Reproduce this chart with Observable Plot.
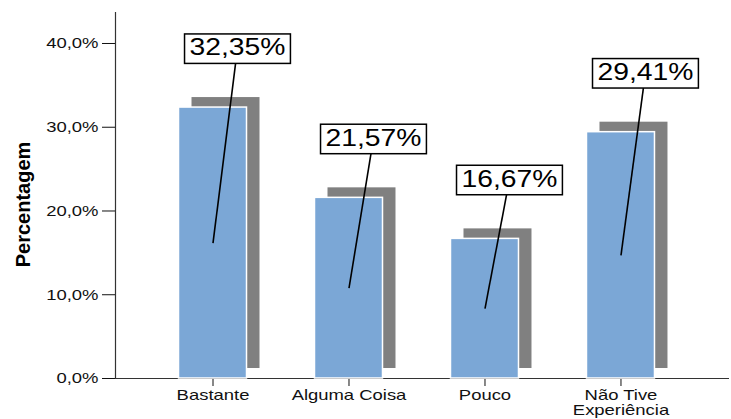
<!DOCTYPE html>
<html>
<head>
<meta charset="utf-8">
<script src="https://cdn.jsdelivr.net/npm/d3@7"></script>
<script src="https://cdn.jsdelivr.net/npm/@observablehq/plot@0.6"></script>
<style>
  html, body { margin: 0; padding: 0; background: #fff; }
</style>
</head>
<body>
<div id="chart"></div>
<script>
// ---- data ----
const categories = ["Bastante", "Alguma Coisa", "Pouco", "Não Tive\nExperiência"];
const percentages = [32.35, 21.57, 16.67, 29.41];
const yTicks = [0, 10, 20, 30, 40];
const yAxisTitle = "Percentagem";

// ---- derived table ----
const data = categories.map((c, i) => ({ i, category: c, value: percentages[i] }));
const fmtTick = d => d.toFixed(1).replace(".", ",") + "%";
const fmtValue = d => d.toFixed(2).replace(".", ",") + "%";

const HALF = 0.25;       // half bar width in category units
const LABEL_DX = 0.18;   // label offset (category units)
const LABEL_DY = 7.1;    // label offset above the bar (percentage units)
const xDomain = [-0.717, 3.798];

const chart = Plot.plot({
  width: 731,
  height: 419,
  marginTop: 12,
  marginBottom: 41,
  marginLeft: 115,
  marginRight: 2,
  style: { fontFamily: "'Liberation Sans', Arial, sans-serif", fontSize: "15px", color: "#111", background: "#fff" },
  x: { domain: xDomain },
  y: { domain: [0, 43.7] },
  marks: [
    Plot.ruleY([0], { stroke: "#333", strokeWidth: 1.2 }),
    Plot.ruleX([xDomain[0]], { stroke: "#333", strokeWidth: 1.2 }),
    Plot.axisY({ ticks: yTicks, tickFormat: fmtTick, tickSize: 13, tickPadding: 4, label: null }),
    Plot.axisX({ ticks: [0, 1, 2, 3], tickFormat: i => categories[i], tickSize: 8, tickPadding: 3, label: null, lineHeight: 1 }),
    // drop shadow
    Plot.rect(data, { x1: d => d.i - HALF, x2: d => d.i + HALF, y1: 0, y2: "value", fill: "#808080", dx: 13, dy: -10 }),
    // bars
    Plot.rect(data, { x1: d => d.i - HALF, x2: d => d.i + HALF, y1: 0, y2: "value", fill: "#7ba7d6", stroke: "#fff", strokeWidth: 1.5 }),
    // leader lines
    Plot.link(data, { x1: "i", y1: d => d.value / 2, x2: d => d.i + LABEL_DX, y2: d => d.value + LABEL_DY, stroke: "#000", strokeWidth: 1.6 }),
    // value labels
    Plot.text(data, { x: d => d.i + LABEL_DX, y: d => d.value + LABEL_DY, text: d => fmtValue(d.value), fontSize: 23, fill: "#000" }),
    // y axis title
    Plot.text([yAxisTitle], { frameAnchor: "left", textAnchor: "middle", lineAnchor: "middle", rotate: -90, dx: -92, dy: 9, fontSize: 20, fontWeight: "bold", fill: "#000" })
  ]
});

document.getElementById("chart").append(chart);

// The reference's horizontal text is stretched horizontally; reproduce it.
const S = 1.23;
function stretch(t) {
  const xa = parseFloat(t.getAttribute("x"));
  const x0 = isFinite(xa) ? xa : 0;
  const tr = t.getAttribute("transform") || "";
  t.setAttribute("transform", (tr + ` translate(${x0},0) scale(${S},1) translate(${-x0},0)`).trim());
}
const allTexts = Array.from(chart.querySelectorAll("text"));
const valueStrings = new Set(percentages.map(fmtValue));
const valueTexts = allTexts.filter(t => valueStrings.has(t.textContent));
const tickTexts = allTexts.filter(t => {
  const g = t.closest("g[aria-label]");
  return g && /tick label/.test(g.getAttribute("aria-label") || "");
});
tickTexts.forEach(stretch);
valueTexts.forEach(stretch);

// Boxes behind the value labels
const ns = "http://www.w3.org/2000/svg";
const svgRect = chart.getBoundingClientRect();
if (valueTexts.length) {
  const labelG = valueTexts[0].parentNode;
  const boxG = document.createElementNS(ns, "g");
  boxG.setAttribute("aria-label", "label box");
  valueTexts.forEach(t => {
    const r = t.getBoundingClientRect();
    const rect = document.createElementNS(ns, "rect");
    rect.setAttribute("x", r.left - svgRect.left - 5);
    rect.setAttribute("y", r.top - svgRect.top - 1);
    rect.setAttribute("width", r.width + 10);
    rect.setAttribute("height", r.height + 4.5);
    rect.setAttribute("fill", "#fff");
    rect.setAttribute("stroke", "#000");
    rect.setAttribute("stroke-width", 1.5);
    boxG.appendChild(rect);
  });
  labelG.parentNode.insertBefore(boxG, labelG);
}
</script>
</body>
</html>
